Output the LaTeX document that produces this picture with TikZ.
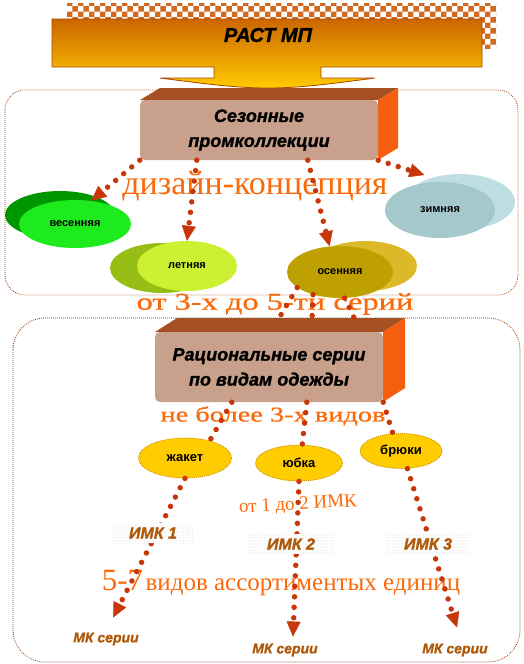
\documentclass[tikz,border=0pt]{standalone}
\usepackage{fontspec}
\setmainfont{Liberation Serif}
\newfontfamily\sa{Liberation Sans}
\newfontfamily\heavy[FakeBold=1.3]{Liberation Sans}
\newfontfamily\widefont[FakeStretch=1.35,FakeBold=0.8]{Liberation Serif}
\usetikzlibrary{shapes.geometric,arrows.meta,patterns,calc}
\definecolor{dotc}{RGB}{200,55,10}
\definecolor{framec}{RGB}{150,50,0}
\definecolor{wordc}{RGB}{250,105,10}
\definecolor{labc}{RGB}{175,90,10}
\definecolor{boxf}{RGB}{200,160,140}
\definecolor{boxt}{RGB}{165,80,35}
\definecolor{boxs}{RGB}{245,95,15}
\definecolor{vesf}{RGB}{30,235,30}
\definecolor{vesb}{RGB}{0,150,0}
\definecolor{letf}{RGB}{205,240,50}
\definecolor{letb}{RGB}{150,190,20}
\definecolor{osf}{RGB}{190,160,0}
\definecolor{osb}{RGB}{220,185,40}
\definecolor{zimf}{RGB}{165,200,205}
\definecolor{zimb}{RGB}{190,222,225}
\definecolor{garmc}{RGB}{255,204,0}
\definecolor{garmline}{RGB}{200,140,0}
\definecolor{bantop}{RGB}{204,102,0}
\definecolor{banbot}{RGB}{255,204,0}
\definecolor{banline}{RGB}{170,70,0}
\definecolor{chk}{RGB}{210,105,30}
\tikzset{
  frame/.style={draw=framec, line width=0.8pt, dash pattern=on 0.8pt off 1.2pt},
  dotline/.style={draw=dotc, line width=5.5pt, line cap=round, dash pattern=on 0pt off 10.5pt},
  dotarrow/.style={dotline, -{Triangle[width=14pt,length=15pt,line width=0.4pt]}},
  boxfront/.style={fill=boxf, rounded corners=5pt, inner sep=0pt, align=center,
    font=\heavy\bfseries\itshape\fontsize{18}{25}\selectfont},
  season/.style={ellipse, inner sep=0pt, font=\sa\bfseries\fontsize{11}{11}\selectfont},
  garm/.style={ellipse, inner sep=0pt, fill=garmc, draw=garmline, line width=0.8pt,
    dash pattern=on 1pt off 1pt, font=\sa\bfseries\fontsize{13}{13}\selectfont},
  imk/.style={preaction={fill=white}, pattern=dots, pattern color=black!22, inner sep=0pt,
    text=labc, font=\heavy\bfseries\itshape\fontsize{16}{16}\selectfont},
  mkser/.style={inner sep=1pt, text=labc, font=\heavy\bfseries\itshape\fontsize{14}{14}\selectfont},
  wordart/.style={text=wordc, inner sep=0pt}
}
\begin{document}
\begin{tikzpicture}[x=1pt,y=-1pt]
\useasboundingbox (0,0) rectangle (524,664);
% containers
\draw[frame, rounded corners=20pt] (5,90) rectangle (518,295);
\draw[frame, rounded corners=32pt] (13,318) rectangle (520,662);
% banner
\fill[pattern=checkerboard, pattern color=chk] (67,3) rectangle (496,48);
\draw[draw=banline, line width=0.8pt, top color=bantop, bottom color=banbot]
  (52,19) -- (482,19) -- (482,67) -- (321,67) -- (321,78) -- (375,78)
  .. controls (330,84) and (300,88) .. (268,88)
  .. controls (236,88) and (206,84) .. (160,78) -- (214,78) -- (214,67) -- (52,67) -- cycle;
\node[font=\heavy\bfseries\itshape\fontsize{20}{20}\selectfont] (rast) at (268,35) {РАСТ МП};
% seasonal box
\fill[boxt] (140,100) -- (160,88) -- (398,88) -- (378,100) -- cycle;
\fill[boxs] (378,100) -- (398,88) -- (398,148) -- (378,160) -- cycle;
\node[boxfront, minimum width=238pt, minimum height=60pt] (sez) at (259,130) {Сезонные\\промколлекции};
% season ellipses
\fill[vesb] (60,215) ellipse [x radius=55pt, y radius=24pt];
\node[season, fill=vesf, minimum width=112pt, minimum height=48pt] (ves) at (75,224) {весенняя};
\fill[letb] (162,268) ellipse [x radius=52pt, y radius=25pt];
\node[season, fill=letf, minimum width=100pt, minimum height=50pt] (let) at (187,266) {летняя};
\fill[osb] (365,266) ellipse [x radius=52pt, y radius=25pt];
\node[season, fill=osf, minimum width=106pt, minimum height=52pt] (os) at (340,272) {осенняя};
\fill[zimb] (460,202) ellipse [x radius=55pt, y radius=28pt];
\node[season, fill=zimf, minimum width=110pt, minimum height=56pt] (zim) at (440,210) {зимняя};
% design concept text
\node[wordart, font=\fontsize{34}{34}\selectfont] (diz) at (255,186) {дизайн-концепция};
% upper connectors
\draw[dotarrow] (sez.south west) -- (ves.55);
\draw[dotarrow] ($(sez.south west)+(57,0)$) -- (let.north);
\draw[dotarrow] ($(sez.south west)+(168,0)$) -- (os.112);
\draw[dotarrow] (sez.south east) -- ([yshift=8pt]zim.120);
% rational series box
\fill[boxt] (155,332) -- (177,318) -- (405,318) -- (383,332) -- cycle;
\fill[boxs] (383,332) -- (405,318) -- (405,388) -- (383,402) -- cycle;
\node[boxfront, minimum width=228pt, minimum height=70pt] (rat) at (269,367) {Рациональные серии\\по видам одежды};
% series text
\node[wordart, font=\widefont\fontsize{24}{24}\selectfont] (ser) at (275,304) {от 3-х до 5-ти серий};
\draw[dotline] (os.200) -- ([shift={(9,-12)}]rat.north);
\draw[dotline] (os.220) -- ([shift={(43,-12)}]rat.north);
\draw[dotline] (os.280) -- ([shift={(87,-10)}]rat.north);
% garments
\node[wordart, font=\widefont\fontsize{21}{21}\selectfont] (vid) at (273,416) {не более 3-х видов};
\node[garm, minimum width=93pt, minimum height=40pt] (jak) at (185,458) {жакет};
\node[garm, minimum width=87pt, minimum height=36pt] (yub) at (299,463) {юбка};
\node[garm, minimum width=82pt, minimum height=35pt] (bru) at (401,451) {брюки};
\draw[dotline] ($(rat.south west)+(77,0)$) -- (jak.35);
\draw[dotline] ($(rat.south west)+(152,0)$) -- (yub.80);
\draw[dotline] (rat.south east) -- (bru.115);
% lower texts
\node[wordart, font=\fontsize{19}{19}\selectfont, rotate=3] (imkn) at (298,505) {от 1 до 2 ИМК};
\node[wordart, anchor=base] (ass) at (281,590)
  {{\fontsize{31}{31}\selectfont 5-7} {\fontsize{25}{25}\selectfont видов ассортиментых единиц}};
\node[mkser] (mk1) at (106,639) {МК серии};
\node[mkser] (mk2) at (285,650) {МК серии};
\node[mkser] (mk3) at (455,650) {МК серии};
\draw[dotarrow] (jak.south) -- ([shift={(7,-14)}]mk1.north);
\draw[dotarrow] (yub.south) -- ([shift={(8,-6)}]mk2.north);
\draw[dotarrow] (bru.290) -- ([shift={(2,-15)}]mk3.north);
\node[imk, minimum width=80pt, minimum height=20pt] (imk1) at (153,533) {ИМК 1};
\node[imk, minimum width=85pt, minimum height=20pt] (imk2) at (291,544) {ИМК 2};
\node[imk, minimum width=85pt, minimum height=20pt] (imk3) at (428,544) {ИМК 3};
\end{tikzpicture}
\end{document}
